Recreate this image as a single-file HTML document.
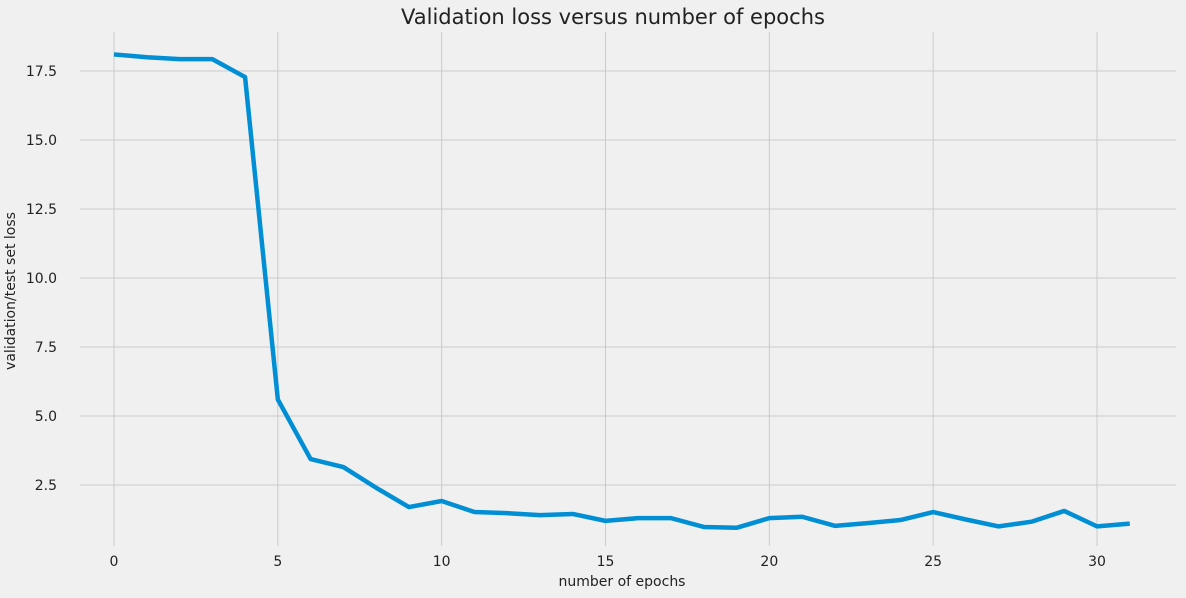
<!DOCTYPE html>
<html><head><meta charset="utf-8"><style>
body{margin:0;background:#f0f0f0;}
svg{display:block;font-family:"DejaVu Sans","Liberation Sans",sans-serif;}
</style></head><body>
<svg id="chart" width="1186" height="598">
<rect width="1186" height="598" fill="#f0f0f0"/>
<text x="613" y="24" text-anchor="middle" font-size="21" fill="#222">Validation loss versus number of epochs</text>
<text x="622" y="586" text-anchor="middle" font-size="14" fill="#222">number of epochs</text>
<text transform="translate(15,291) rotate(-90)" text-anchor="middle" font-size="14" fill="#222">validation/test set loss</text>
<g id="grid"></g><g id="ticks"></g><g id="series"></g>
</svg>
<script>
const epochs=[0,1,2,3,4,5,6,7,8,9,10,11,12,13,14,15,16,17,18,19,20,21,22,23,24,25,26,27,28,29,30,31];
const losses=[18.1,18.0,17.93,17.93,17.28,5.6,3.44,3.15,2.4,1.7,1.92,1.52,1.48,1.41,1.45,1.2,1.3,1.3,0.98,0.95,1.3,1.35,1.02,1.12,1.23,1.52,1.25,1.0,1.17,1.56,1.0,1.1];
const xTicks=[0,5,10,15,20,25,30];
const yTicks=[2.5,5.0,7.5,10.0,12.5,15.0,17.5];
const X=v=>114+v*(1097-114)/30;
const Y=v=>554-v*(485-71)/15;
const NS="http://www.w3.org/2000/svg";
const grid=document.getElementById('grid'),ticks=document.getElementById('ticks'),series=document.getElementById('series');
function mk(t,a,p){const e=document.createElementNS(NS,t);for(const k in a)e.setAttribute(k,a[k]);p.appendChild(e);return e;}
xTicks.forEach(v=>{
 const l=mk('line',{x1:X(v),x2:X(v),y1:32,y2:546,stroke:'#cbcbcb','stroke-width':1},grid);
 
 
 const t=mk('text',{x:X(v),y:566,'text-anchor':'middle','font-size':14,fill:'#222'},ticks);
 t.textContent=v;
 
 
});
yTicks.forEach(v=>{
 const l=mk('line',{x1:80,x2:1176,y1:Y(v),y2:Y(v),stroke:'#cbcbcb','stroke-width':1},grid);
 
 
 const t=mk('text',{x:57,y:Y(v)+5,'text-anchor':'end','font-size':14,fill:'#222'},ticks);
 t.textContent=v.toFixed(1);
 
 
});
const p=mk('polyline',{points:epochs.map((e,i)=>X(e)+','+Y(losses[i])).join(' '),fill:'none',stroke:'#008fd5','stroke-width':4.5,'stroke-linejoin':'round','stroke-linecap':'butt'},series);


</script>
</body></html>
